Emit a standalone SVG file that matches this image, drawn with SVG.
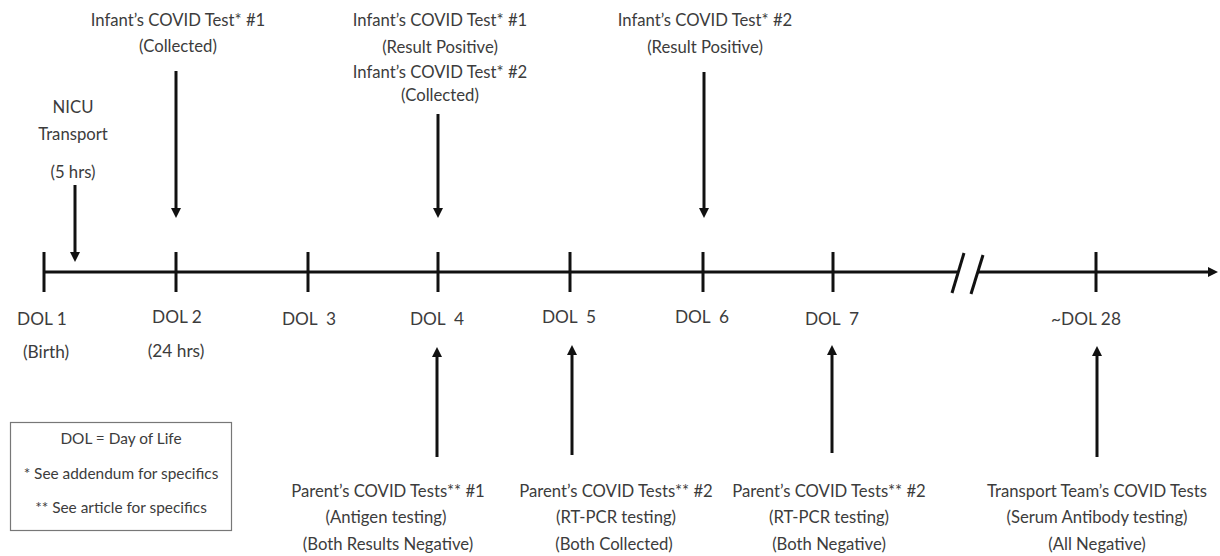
<svg xmlns="http://www.w3.org/2000/svg" width="1220" height="556" viewBox="0 0 1220 556">
<style>
.t{font-family:Lato,"Liberation Sans",sans-serif;font-size:16.7px;fill:#3c3c3c;text-anchor:middle}
.d{font-family:Lato,"Liberation Sans",sans-serif;font-size:17.3px;fill:#3c3c3c;text-anchor:middle}
.g{font-size:15.4px}
.ln{stroke:#111;stroke-width:3;fill:none}
</style>
<defs>
<marker id="ah" viewBox="0 0 10 10" refX="2" refY="5" markerWidth="10" markerHeight="10" markerUnits="userSpaceOnUse" orient="auto">
<path d="M0,0 L10,5 L0,10 z" fill="#111"/>
</marker>
</defs>
<rect width="1220" height="556" fill="#fff"/>
<g id="connectors">
<line class="ln" x1="44" y1="272" x2="957" y2="272"/>
<line class="ln" x1="978" y1="272" x2="1210" y2="272" marker-end="url(#ah)"/>
<line class="ln" x1="952" y1="293" x2="964" y2="253"/>
<line class="ln" x1="971" y1="294" x2="983" y2="255"/>
<line class="ln" x1="44" y1="252" x2="44" y2="292"/>
<line class="ln" x1="176" y1="252" x2="176" y2="292"/>
<line class="ln" x1="308" y1="252" x2="308" y2="292"/>
<line class="ln" x1="438" y1="252" x2="438" y2="292"/>
<line class="ln" x1="570" y1="252" x2="570" y2="292"/>
<line class="ln" x1="703" y1="252" x2="703" y2="292"/>
<line class="ln" x1="833" y1="252" x2="833" y2="292"/>
<line class="ln" x1="1096" y1="252" x2="1096" y2="292"/>
<line class="ln" x1="75" y1="185" x2="75" y2="254" marker-end="url(#ah)"/>
<line class="ln" x1="176" y1="71" x2="176" y2="210" marker-end="url(#ah)"/>
<line class="ln" x1="438" y1="114" x2="438" y2="210" marker-end="url(#ah)"/>
<line class="ln" x1="704" y1="72" x2="704" y2="210" marker-end="url(#ah)"/>
<line class="ln" x1="437" y1="457" x2="437" y2="355" marker-end="url(#ah)"/>
<line class="ln" x1="572" y1="455" x2="572" y2="353" marker-end="url(#ah)"/>
<line class="ln" x1="832" y1="453" x2="832" y2="353" marker-end="url(#ah)"/>
<line class="ln" x1="1097" y1="457" x2="1097" y2="354" marker-end="url(#ah)"/>
</g>
<g id="nicu">
<text class="t" x="73" y="113">NICU</text>
<text class="t" x="73" y="140">Transport</text>
<text class="t" x="73" y="178">(5 hrs)</text>
</g>
<g id="top-dol2">
<text class="t" x="178" y="26">Infant’s COVID Test* #1</text>
<text class="t" x="178" y="52">(Collected)</text>
</g>
<g id="top-dol4">
<text class="t" x="440" y="26">Infant’s COVID Test* #1</text>
<text class="t" x="440" y="53">(Result Positive)</text>
<text class="t" x="440" y="78">Infant’s COVID Test* #2</text>
<text class="t" x="440" y="101">(Collected)</text>
</g>
<g id="top-dol6">
<text class="t" x="705" y="26">Infant’s COVID Test* #2</text>
<text class="t" x="705" y="53">(Result Positive)</text>
</g>
<g id="dol-labels">
<text class="d" x="42" y="325">DOL 1</text>
<text class="d" x="46" y="358">(Birth)</text>
<text class="d" x="177" y="323">DOL 2</text>
<text class="d" x="176" y="357">(24 hrs)</text>
<text class="d" x="309" y="325" xml:space="preserve">DOL  3</text>
<text class="d" x="437" y="325" xml:space="preserve">DOL  4</text>
<text class="d" x="569" y="323" xml:space="preserve">DOL  5</text>
<text class="d" x="702" y="323" xml:space="preserve">DOL  6</text>
<text class="d" x="832" y="325" xml:space="preserve">DOL  7</text>
<text class="d" x="1086" y="325">~DOL 28</text>
</g>
<g id="bottom-dol4">
<text class="t" x="388" y="497">Parent’s COVID Tests** #1</text>
<text class="t" x="386" y="523">(Antigen testing)</text>
<text class="t" x="388" y="550">(Both Results Negative)</text>
</g>
<g id="bottom-dol5">
<text class="t" x="616" y="497">Parent’s COVID Tests** #2</text>
<text class="t" x="616" y="523">(RT-PCR testing)</text>
<text class="t" x="614" y="550">(Both Collected)</text>
</g>
<g id="bottom-dol7">
<text class="t" x="829" y="497">Parent’s COVID Tests** #2</text>
<text class="t" x="829" y="523">(RT-PCR testing)</text>
<text class="t" x="829" y="550">(Both Negative)</text>
</g>
<g id="bottom-dol28">
<text class="t" x="1097" y="497">Transport Team’s COVID Tests</text>
<text class="t" x="1097" y="523">(Serum Antibody testing)</text>
<text class="t" x="1097" y="550">(All Negative)</text>
</g>
<g id="legend">
<rect x="10.5" y="422.5" width="221" height="108" fill="#fff" stroke="#777" stroke-width="1.2"/>
<text class="t g" x="121" y="444">DOL = Day of Life</text>
<text class="t g" x="121" y="479">* See addendum for specifics</text>
<text class="t g" x="121" y="513">** See article for specifics</text>
</g>
</svg>
